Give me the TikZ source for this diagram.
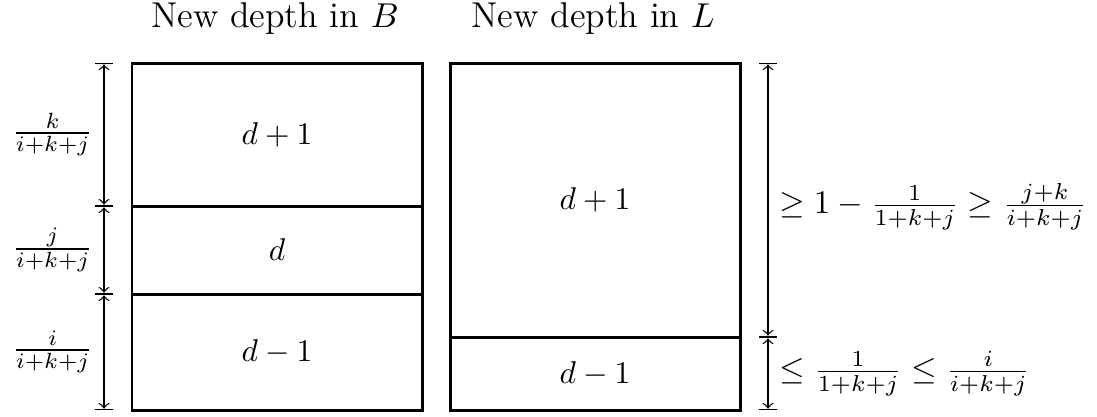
\documentclass[tikz,border=0pt]{standalone}
\usepackage{amsmath}
\usepackage{graphicx}
\begin{document}
\begin{tikzpicture}[x=0.3175pt,y=-0.3175pt,
  boxline/.style={line width=0.95pt},
  dim/.style={|<->|,line width=0.4pt},
  title/.style={font=\fontsize{11.4}{13.5}\selectfont}]
\useasboundingbox (0,0) rectangle (1097,416);
% titles
\node[title] (tB) at (275,19) {New depth in $B$};
\node[title] (tL) at (593,19) {New depth in $L$};
% left column boxes
\draw[boxline] (132,63) rectangle (422,206) node[midway] (b1) {$d+1$};
\draw[boxline] (132,206) rectangle (422,294) node[midway] (b2) {$d$};
\draw[boxline] (132,294) rectangle (422,410) node[midway] (b3) {$d-1$};
% right column boxes
\draw[boxline] (450,63) rectangle (740,337) node[midway] (l1) {$d+1$};
\draw[boxline] (450,337) rectangle (740,410) node[midway] (l2) {$d-1$};
% left dimension arrows
\coordinate (a0) at (104,63);
\coordinate (a1) at (104,206);
\coordinate (a2) at (104,294);
\coordinate (a3) at (104,410);
\draw[dim] (a0) -- (a1) node[midway,left] (fk) {$\frac{k}{i+k+j}$};
\draw[dim] (a1) -- (a2) node[midway,left] (fj) {$\frac{j}{i+k+j}$};
\draw[dim] (a2) -- (a3) node[midway,left] (fi) {$\frac{i}{i+k+j}$};
% right dimension arrows
\coordinate (r0) at (768,63);
\coordinate (r1) at (768,337);
\coordinate (r2) at (768,410);
\draw[dim] (r0) -- (r1) node[midway,right,yshift=-2pt] (g1) {\scalebox{1.045}{$\geq 1-\frac{1}{1+k+j}\geq\frac{j+k}{i+k+j}$}};
\draw[dim] (r1) -- (r2) node[midway,right] (g2) {\scalebox{1.045}{$\leq \frac{1}{1+k+j}\leq\frac{i}{i+k+j}$}};
\end{tikzpicture}
\end{document}
